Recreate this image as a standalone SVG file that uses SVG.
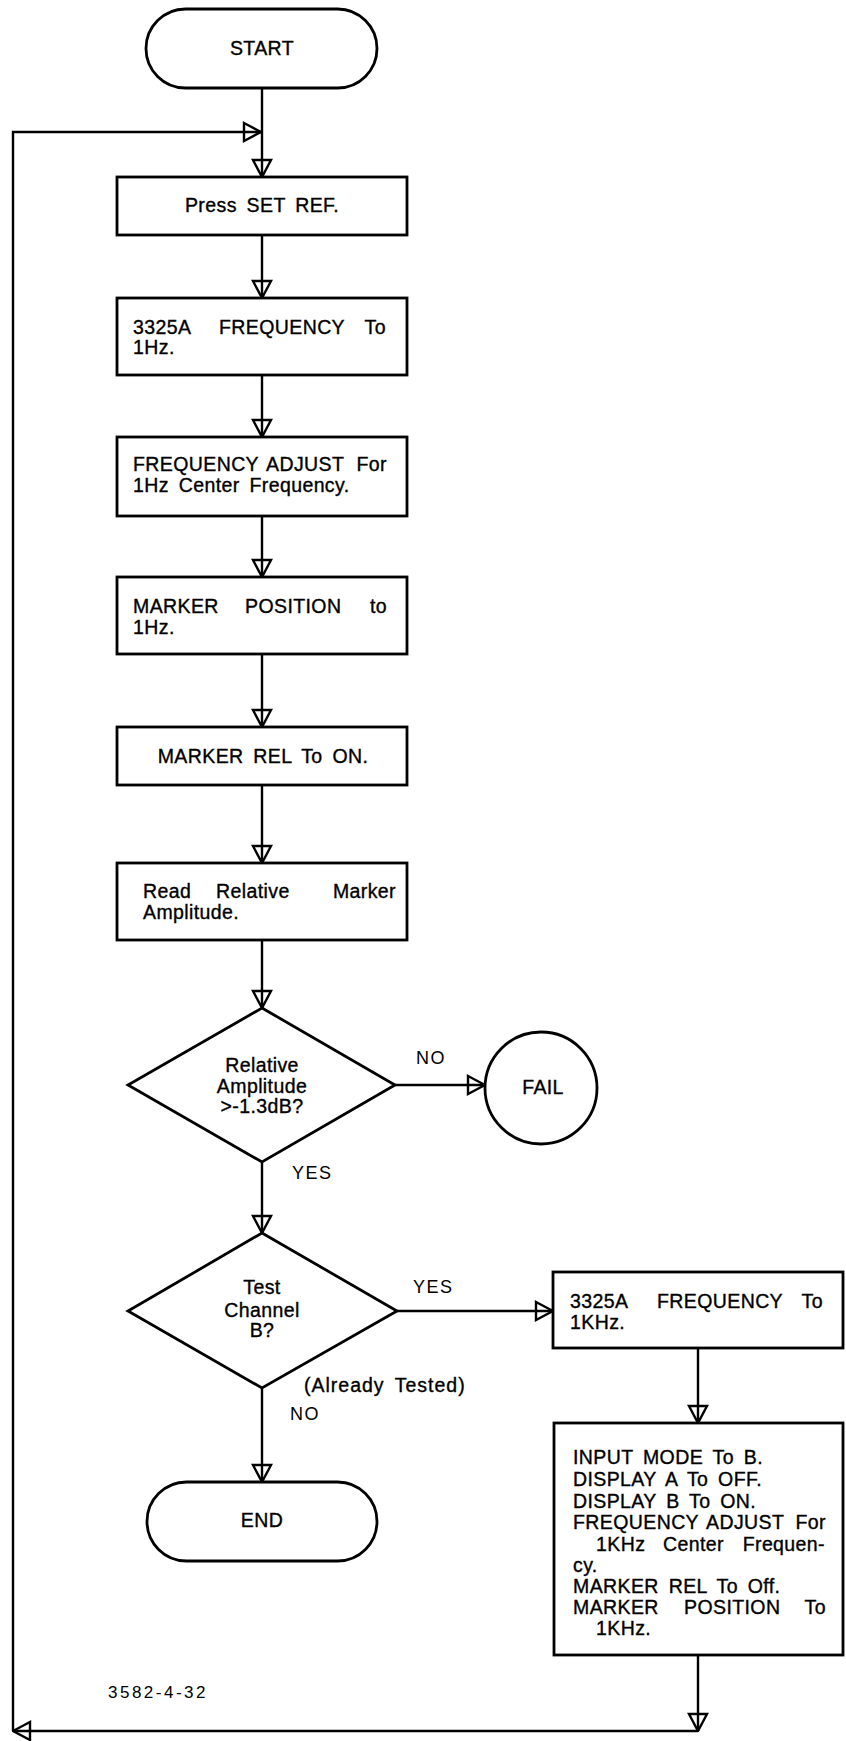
<svg xmlns="http://www.w3.org/2000/svg" width="846" height="1741" viewBox="0 0 846 1741">
<style>
  .box { fill: none; stroke: #000; stroke-width: 2.8; }
  .ln { fill: none; stroke: #000; stroke-width: 2.4; }
  .t { font-family: "Liberation Sans", Arial, sans-serif; font-size: 19.5px; fill: #000; stroke: #000; stroke-width: 0.35px; letter-spacing: 0.4px; word-spacing: 4px; }
  .c { text-anchor: middle; }
  .e { text-anchor: end; }
  .lbl { font-family: "Liberation Sans", Arial, sans-serif; font-size: 18px; fill: #000; letter-spacing: 1.5px; }
  .small { font-family: "Liberation Sans", Arial, sans-serif; font-size: 17px; fill: #000; letter-spacing: 2.5px; }
</style>
<defs>
  <marker id="arr" viewBox="0 0 20 22" refX="19" refY="11" markerWidth="20" markerHeight="22" markerUnits="userSpaceOnUse" orient="auto">
    <path d="M2,2 L19,11 L2,20 Z" fill="none" stroke="#000" stroke-width="2.4"/>
  </marker>
</defs>
<rect width="846" height="1741" fill="#fff"/>

<g id="connectors">
  <line class="ln" x1="262" y1="88" x2="262" y2="177" marker-end="url(#arr)"/>
  <polyline class="ln" points="13,1731 13,132 261,132" marker-end="url(#arr)"/>
  <line class="ln" x1="262" y1="235" x2="262" y2="298" marker-end="url(#arr)"/>
  <line class="ln" x1="262" y1="375" x2="262" y2="437" marker-end="url(#arr)"/>
  <line class="ln" x1="262" y1="516" x2="262" y2="577" marker-end="url(#arr)"/>
  <line class="ln" x1="262" y1="654" x2="262" y2="727" marker-end="url(#arr)"/>
  <line class="ln" x1="262" y1="785" x2="262" y2="863" marker-end="url(#arr)"/>
  <line class="ln" x1="262" y1="940" x2="262" y2="1008" marker-end="url(#arr)"/>
  <line class="ln" x1="395" y1="1085" x2="485" y2="1085" marker-end="url(#arr)"/>
  <line class="ln" x1="262" y1="1162" x2="262" y2="1233" marker-end="url(#arr)"/>
  <line class="ln" x1="397" y1="1311" x2="553" y2="1311" marker-end="url(#arr)"/>
  <line class="ln" x1="262" y1="1388" x2="262" y2="1482" marker-end="url(#arr)"/>
  <line class="ln" x1="698" y1="1348" x2="698" y2="1423" marker-end="url(#arr)"/>
  <line class="ln" x1="698" y1="1655" x2="698" y2="1731" marker-end="url(#arr)"/>
  <line class="ln" x1="698" y1="1731" x2="13" y2="1731" marker-end="url(#arr)"/>
  <text class="lbl" x="416" y="1064">NO</text>
  <text class="lbl" x="292" y="1179">YES</text>
  <text class="lbl" x="413" y="1293">YES</text>
  <text class="t" x="304" y="1392" style="letter-spacing:1px">(Already Tested)</text>
  <text class="lbl" x="290" y="1420">NO</text>
</g>

<g id="start">
  <rect class="box" x="146" y="9" width="231" height="79" rx="39.5"/>
  <text class="t c" x="262" y="55">START</text>
</g>

<g id="press-set-ref">
  <rect class="box" x="117" y="177" width="290" height="58"/>
  <text class="t c" x="262" y="212">Press SET REF.</text>
</g>

<g id="freq-1hz">
  <rect class="box" x="117" y="298" width="290" height="77"/>
  <text class="t" x="133" y="334">3325A</text>
  <text class="t" x="219" y="334">FREQUENCY</text>
  <text class="t e" x="386" y="334">To</text>
  <text class="t" x="133" y="354">1Hz.</text>
</g>

<g id="freq-adjust">
  <rect class="box" x="117" y="437" width="290" height="79"/>
  <text class="t" x="133" y="471">FREQUENCY</text>
  <text class="t" x="266" y="471">ADJUST</text>
  <text class="t e" x="387" y="471">For</text>
  <text class="t" x="133" y="492">1Hz Center Frequency.</text>
</g>

<g id="marker-position">
  <rect class="box" x="117" y="577" width="290" height="77"/>
  <text class="t" x="133" y="613">MARKER</text>
  <text class="t" x="245" y="613">POSITION</text>
  <text class="t e" x="387" y="613">to</text>
  <text class="t" x="133" y="634">1Hz.</text>
</g>

<g id="marker-rel">
  <rect class="box" x="117" y="727" width="290" height="58"/>
  <text class="t c" x="263" y="763">MARKER REL To ON.</text>
</g>

<g id="read-amplitude">
  <rect class="box" x="117" y="863" width="290" height="77"/>
  <text class="t" x="143" y="898">Read</text>
  <text class="t" x="216" y="898">Relative</text>
  <text class="t e" x="396" y="898">Marker</text>
  <text class="t" x="143" y="919">Amplitude.</text>
</g>

<g id="decision-amplitude">
  <polygon class="box" points="262,1008 395,1085 262,1162 128,1085"/>
  <text class="t c" x="262" y="1072">Relative</text>
  <text class="t c" x="262" y="1093">Amplitude</text>
  <text class="t c" x="262" y="1113">&gt;-1.3dB?</text>
</g>

<g id="fail">
  <circle class="box" cx="541" cy="1088" r="56"/>
  <text class="t c" x="543" y="1094">FAIL</text>
</g>

<g id="decision-channel-b">
  <polygon class="box" points="262,1233 397,1311 262,1388 128,1311"/>
  <text class="t c" x="262" y="1294">Test</text>
  <text class="t c" x="262" y="1317">Channel</text>
  <text class="t c" x="262" y="1337">B?</text>
</g>

<g id="end">
  <rect class="box" x="147" y="1482" width="230" height="79" rx="39.5"/>
  <text class="t c" x="262" y="1527">END</text>
</g>

<g id="freq-1khz">
  <rect class="box" x="553" y="1272" width="290" height="76"/>
  <text class="t" x="570" y="1308">3325A</text>
  <text class="t" x="657" y="1308">FREQUENCY</text>
  <text class="t e" x="823" y="1308">To</text>
  <text class="t" x="570" y="1329">1KHz.</text>
</g>

<g id="channel-b-setup">
  <rect class="box" x="554" y="1423" width="289" height="232"/>
  <text class="t" x="573" y="1464">INPUT MODE To B.</text>
  <text class="t" x="573" y="1486">DISPLAY A To OFF.</text>
  <text class="t" x="573" y="1508">DISPLAY B To ON.</text>
  <text class="t" x="573" y="1529">FREQUENCY</text>
  <text class="t" x="706" y="1529">ADJUST</text>
  <text class="t e" x="826" y="1529">For</text>
  <text class="t" x="596" y="1551">1KHz</text>
  <text class="t" x="663" y="1551">Center</text>
  <text class="t e" x="825" y="1551">Frequen-</text>
  <text class="t" x="573" y="1572">cy.</text>
  <text class="t" x="573" y="1593">MARKER REL To Off.</text>
  <text class="t" x="573" y="1614">MARKER</text>
  <text class="t" x="684" y="1614">POSITION</text>
  <text class="t e" x="826" y="1614">To</text>
  <text class="t" x="596" y="1635">1KHz.</text>
</g>

<text class="small" x="108" y="1698">3582-4-32</text>
</svg>
